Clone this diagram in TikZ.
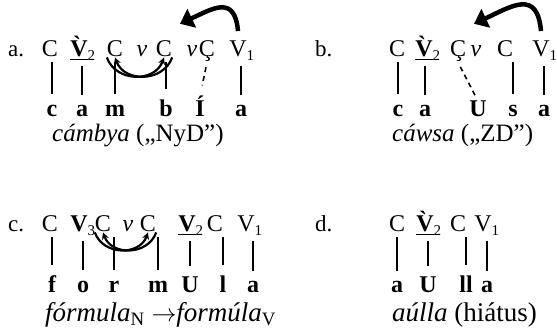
\documentclass[tikz,border=0pt]{standalone}
\usepackage{fontspec}
\setmainfont{Liberation Serif}
\usetikzlibrary{arrows.meta}
\newcommand{\vsub}[1]{\rlap{\raisebox{-4pt}{\fontsize{15}{15}\selectfont #1}}}

\begin{document}
\begin{tikzpicture}[x=1pt, y=1pt,
    sym/.style={anchor=base, inner sep=0pt, font=\fontsize{24}{28}\selectfont},
    seg/.style={anchor=base, inner sep=0pt, font=\fontsize{24}{28}\selectfont\bfseries},
    tag/.style={anchor=base west, inner sep=0pt, font=\fontsize{23}{27}\selectfont},
    gloss/.style={anchor=base west, inner sep=0pt, font=\fontsize{25}{29}\selectfont},
    link/.style={line width=1.2pt, shorten <=5pt, shorten >=11pt},
    hop/.style={line width=4.5pt, -{Triangle[length=13pt,width=20pt]}},
    swap/.style={line width=2.2pt, -{Stealth[length=7pt,width=7pt]}}]

\useasboundingbox (0,0) rectangle (557,336);

\node[tag] (la) at (8,279) {a.};
\node[sym] (a1) at (50,279) {C};
\node[sym] (a2) at (79,279) {\underline{\textbf{\`V}}\vsub{2}};
\node[sym] (a3) at (115,279) {C};
\node[sym] (a4) at (142,279) {\textit{ν}};
\node[sym] (a5) at (164,279) {C};
\node[sym] (a6) at (192,279) {\textit{ν}};
\node[sym] (a7) at (207,279) {Ç};
\node[sym] (a8) at (238,279) {V\vsub{1}};
\node[seg] (sa1) at (52,219) {c};
\node[seg] (sa2) at (82,219) {a};
\node[seg] (sa3) at (115,219) {m};
\node[seg] (sa5) at (166,219) {b};
\node[seg] (sa7) at (200,219) {Í};
\node[seg] (sa8) at (241,219) {a};
\node[gloss] (ga) at (52,194) {\textit{cámbya} („NyD”)};

\draw[link] (a1.south -| sa1.north) -- (sa1.north);
\draw[link] (a2.south -| sa2.north) -- (sa2.north);
\draw[link] (a3.south -| sa3.north) -- (sa3.north);
\draw[link] (a5.south -| sa5.north) -- (sa5.north);
\draw[link] (a8.south -| sa8.north) -- (sa8.north);
\draw[link, line width=1.6pt, dashed, dash pattern=on 5pt off 4pt] (a7.south) -- (sa7.north);
\draw[swap] (a3.south west) to[out=-70,in=-110,looseness=1.2] (a5.south);
\draw[swap] (a5.south east) to[out=-110,in=-70,looseness=1.2] (a3.south);
\draw[hop] ([yshift=10pt]a8.north) to[out=95,in=25,looseness=1.6] ([xshift=-12pt,yshift=22pt]a6.north);

\node[tag] (lb) at (315,279) {b.};
\node[sym] (b1) at (397,279) {C};
\node[sym] (b2) at (424,279) {\underline{\textbf{\`V}}\vsub{2}};
\node[sym] (b3) at (458,279) {Ç};
\node[sym] (b4) at (476,279) {\textit{ν}};
\node[sym] (b5) at (505,279) {C};
\node[sym] (b6) at (541,279) {V\vsub{1}};
\node[seg] (sb1) at (398,219) {c};
\node[seg] (sb2) at (425,219) {a};
\node[seg] (sb4) at (478,219) {U};
\node[seg] (sb5) at (513,219) {s};
\node[seg] (sb6) at (544,219) {a};
\node[gloss] (gb) at (392,194) {\textit{cáwsa} („ZD”)};

\draw[link] (b1.south -| sb1.north) -- (sb1.north);
\draw[link] (b2.south -| sb2.north) -- (sb2.north);
\draw[link] (b5.south -| sb5.north) -- (sb5.north);
\draw[link] (b6.south -| sb6.north) -- (sb6.north);
\draw[link, line width=1.6pt, dashed, dash pattern=on 5pt off 4pt, shorten >=3pt] (b3.south) -- (sb4.north);
\draw[hop] ([yshift=10pt]b6.north) to[out=95,in=25,looseness=1.6] ([xshift=-2pt,yshift=22pt]b4.north);

\node[tag] (lc) at (8,104) {c.};
\node[sym] (c1) at (50,104) {C};
\node[sym] (c2) at (79,104) {\textbf{V}\vsub{3}};
\node[sym] (c3) at (103,104) {C};
\node[sym] (c4) at (128,104) {\textit{ν}};
\node[sym] (c5) at (148,104) {C};
\node[sym] (c6) at (187,104) {\underline{\textbf{V}}\vsub{2}};
\node[sym] (c7) at (215,104) {C};
\node[sym] (c8) at (246,104) {V\vsub{1}};
\node[seg] (sc1) at (52,43) {f};
\node[seg] (sc2) at (83,43) {o};
\node[seg] (sc3) at (114,43) {r};
\node[seg] (sc5) at (158,43) {m};
\node[seg] (sc6) at (190,43) {U};
\node[seg] (sc7) at (223,43) {l};
\node[seg] (sc8) at (253,43) {a};
\node[gloss, font=\fontsize{27}{31}\selectfont] (gc) at (45,14) {\textit{fórmula}\textsubscript{N} $\rightarrow$\textit{formúla}\textsubscript{V}};

\draw[link] (c1.south -| sc1.north) -- (sc1.north);
\draw[link] (c2.south -| sc2.north) -- (sc2.north);
\draw[link] (c3.south -| sc3.north) -- (sc3.north);
\draw[link] (c5.south -| sc5.north) -- (sc5.north);
\draw[link] (c6.south -| sc6.north) -- (sc6.north);
\draw[link] (c7.south -| sc7.north) -- (sc7.north);
\draw[link] (c8.south -| sc8.north) -- (sc8.north);
\draw[swap] (c3.south west) to[out=-70,in=-110,looseness=1.2] (c5.south);
\draw[swap] (c5.south east) to[out=-110,in=-70,looseness=1.2] (c3.south);

\node[tag] (ld) at (315,104) {d.};
\node[sym] (d1) at (397,104) {C};
\node[sym] (d2) at (425,104) {\underline{\textbf{\`V}}\vsub{2}};
\node[sym] (d3) at (458,104) {C};
\node[sym] (d4) at (483,104) {V\vsub{1}};
\node[seg] (sd1) at (397,43) {a};
\node[seg] (sd2) at (428,43) {U};
\node[seg] (sd3) at (466,43) {ll};
\node[seg] (sd4) at (487,43) {a};
\node[gloss, font=\fontsize{27}{31}\selectfont] (gd) at (392,14) {\textit{aúlla} (hiátus)};

\draw[link] (d1.south -| sd1.north) -- (sd1.north);
\draw[link] (d2.south -| sd2.north) -- (sd2.north);
\draw[link] (d3.south -| sd3.north) -- (sd3.north);
\draw[link] (d4.south -| sd4.north) -- (sd4.north);
\end{tikzpicture}
\end{document}
